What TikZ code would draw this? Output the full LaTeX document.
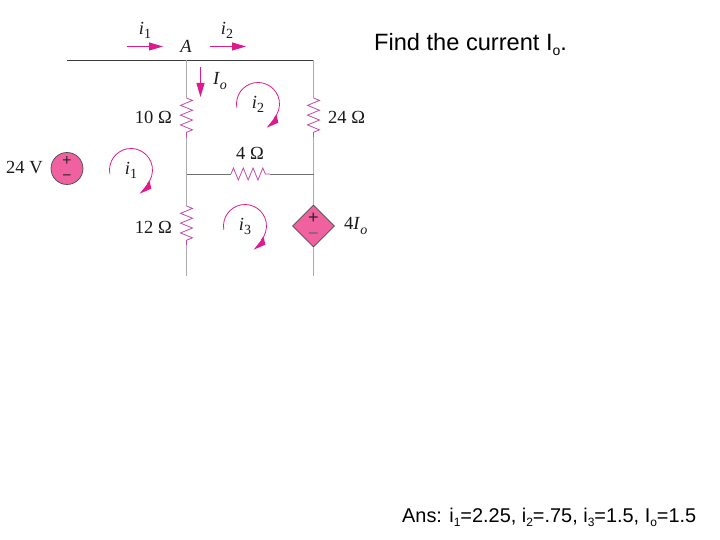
\documentclass[tikz,border=0pt]{standalone}
\usepackage{fontspec}
\setmainfont{Liberation Serif}
\newfontfamily\arialfam{Liberation Sans}
\usetikzlibrary{shapes.geometric,arrows.meta,decorations.pathmorphing}
\definecolor{pinkarrow}{HTML}{DE1A8C}
\definecolor{pinkfill}{HTML}{F0619F}
\definecolor{reswire}{HTML}{C04CA8}
\definecolor{greywire}{HTML}{ABABAB}
\definecolor{midwire}{HTML}{707070}
\definecolor{topwire}{HTML}{3C3C3C}
\newcommand{\isub}[2]{\textit{#1}\raisebox{-0.22em}{\fontsize{14}{14}\selectfont #2}}
\tikzset{
  lab/.style={font=\fontsize{18.5}{18.5}\selectfont, inner sep=0pt, text=black!90},
  prompt/.style={font=\arialfam\fontsize{23.6}{23.6}\selectfont, inner sep=0pt, anchor=base west},
  answer/.style={font=\arialfam\fontsize{19.9}{19.9}\selectfont, inner sep=0pt, anchor=base west},
  wire/.style={draw=greywire, line width=0.9pt},
  hwire/.style={draw=midwire, line width=0.9pt},
  twire/.style={draw=topwire, line width=1pt},
  resistor/.style={draw=reswire, line width=0.8pt, decorate, decoration={zigzag, segment length=9.8pt, amplitude=6pt}},
  flow/.style={draw=pinkarrow, line width=1pt, -{Triangle[length=14pt,width=8pt,fill=pinkarrow]}},
  sign/.style={inner sep=0pt, text=black!85, align=center},
  loopcur/.pic={
    \draw[pinkarrow, line width=0.8pt] (190:21.5) arc (190:-42:21.5);
    \fill[pinkarrow] (8.7,-23.7) -- (18.7,-11) -- (20.3,-18.7) -- cycle;
  }
}
\begin{document}
\begin{tikzpicture}[x=1pt,y=1pt]
\useasboundingbox (0,0) rectangle (720,540);
% junctions
\coordinate (L) at (67,479.5);
\coordinate (TA) at (186.5,479.5);
\coordinate (TR) at (313.5,479.5);
\coordinate (MA) at (186.5,366);
\coordinate (MR) at (313.5,366);
\coordinate (BA) at (186.5,264);
\coordinate (BR) at (313.5,264);
% resistor ends
\coordinate (r10a) at (186.5,442);
\coordinate (r10b) at (186.5,403);
\coordinate (r24a) at (313.5,442);
\coordinate (r24b) at (313.5,403);
\coordinate (r4a) at (231,366);
\coordinate (r4b) at (270,366);
\coordinate (r12a) at (186.5,334);
\coordinate (r12b) at (186.5,295);
% dependent source
\node[diamond, aspect=1, draw=black!70, fill=pinkfill, line width=0.7pt, minimum size=42pt, inner sep=0pt] (dep) at (313.5,314) {};
% wires
\draw[twire] (L) -- (TA) -- (TR);
\draw[wire] (TA) -- (r10a);
\draw[wire] (r10b) -- (MA) -- (r12a);
\draw[wire] (r12b) -- (BA);
\draw[wire] (TR) -- (r24a);
\draw[wire] (r24b) -- (MR) -- (dep.north);
\draw[wire] (dep.south) -- (BR);
\draw[hwire] (MA) -- (r4a);
\draw[hwire] (r4b) -- (MR);
\draw[resistor] (r10a) -- (r10b);
\draw[resistor] (r24a) -- (r24b);
\draw[resistor] (r4a) -- (r4b);
\draw[resistor] (r12a) -- (r12b);
% source
\node[circle, draw=black!70, fill=pinkfill, line width=0.7pt, minimum size=32pt, inner sep=0pt] (src) at (67,371.5) {};
\node[sign, font=\arialfam\fontsize{15.5}{14.6}\selectfont] (srcsign) at (67,371.5) {+\\−};
\node[sign, font=\arialfam\fontsize{18}{16.5}\selectfont] (depsign) at (313.5,313.5) {+\\\textcolor{black!60}{−}};
% current arrows
\coordinate (a1s) at (127,493.5); \coordinate (a1e) at (163,493.5);
\coordinate (a2s) at (209.5,493.5); \coordinate (a2e) at (246,493.5);
\coordinate (ios) at (200.5,473); \coordinate (ioe) at (200.5,443);
\draw[flow] (a1s) -- (a1e);
\draw[flow] (a2s) -- (a2e);
\draw[flow] (ios) -- (ioe);
% loop currents
\pic at (258,436) {loopcur};
\pic at (131,370) {loopcur};
\pic at (245,314) {loopcur};
% labels
\node[lab] (ti1) at (145,510) {\isub{i}{1}};
\node[lab] (tA) at (186,494) {\textit{A}};
\node[lab] (ti2) at (227,510) {\isub{i}{2}};
\node[lab] (tIo) at (220,459) {\isub{I}{\textit{o}}};
\node[lab, anchor=east] (t10) at (172,423) {10 Ω};
\node[lab, anchor=west] (t24) at (328,423) {24 Ω};
\node[lab] (t4) at (250,387) {4 Ω};
\node[lab, anchor=west] (t24v) at (6,372) {24 V};
\node[lab, anchor=east] (t12) at (172,313) {12 Ω};
\node[lab, anchor=west] (t4io) at (344,314) {4\isub{I}{\textit{o}}};
\node[lab] (li2) at (258,436) {\isub{i}{2}};
\node[lab] (li1) at (131,370) {\isub{i}{1}};
\node[lab] (li3) at (245,314) {\isub{i}{3}};
% texts
\node[prompt] (find) at (374,489) {Find the current I\raisebox{-0.18em}{\fontsize{14}{14}\selectfont o}.};
\node[answer] (ans) at (402,17) {Ans: i\raisebox{-0.18em}{\fontsize{12}{12}\selectfont 1}=2.25, i\raisebox{-0.18em}{\fontsize{12}{12}\selectfont 2}=.75, i\raisebox{-0.18em}{\fontsize{12}{12}\selectfont 3}=1.5, I\raisebox{-0.18em}{\fontsize{12}{12}\selectfont o}=1.5};
\end{tikzpicture}
\end{document}
